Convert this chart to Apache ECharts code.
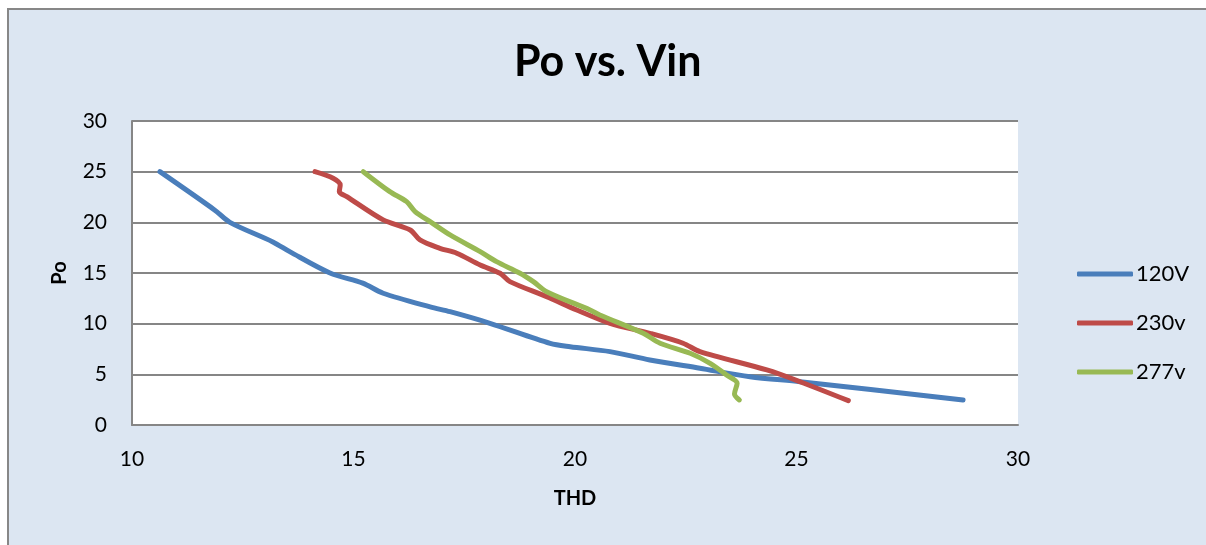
<!DOCTYPE html>
<html>
<head>
<meta charset="utf-8">
<script src="https://cdn.jsdelivr.net/npm/echarts@6/dist/echarts.min.js"></script>
<style>
html,body{margin:0;padding:0;background:#fff;}
#c{width:1206px;height:545px;}
</style>
</head>
<body>
<div id="c"></div>
<script>
var titleText = 'Po vs. Vin';
var xName = 'THD';
var yName = 'Po';
var seriesNames = ['120V', '230v', '277v'];

var thd120 = [10.63, 11.87, 12.21, 13.18, 13.57, 14.47, 15.21, 15.67, 16.73, 17.18, 18.08, 19.44, 19.89, 20.79, 21.69, 22.82, 23.95, 25.08, 28.76];
var po120  = [25.0, 21.2, 20.0, 18.07, 17.08, 15.0, 14.0, 13.0, 11.65, 11.18, 10.04, 8.06, 7.73, 7.24, 6.42, 5.6, 4.77, 4.27, 2.47];

var thd230 = [14.13, 14.54, 14.70, 14.68, 14.85, 15.67, 16.28, 16.50, 16.95, 17.33, 17.86, 18.31, 18.53, 19.36, 20.04, 20.79, 21.69, 22.44, 22.82, 24.33, 25.08, 26.17];
var po230  = [25.0, 24.35, 23.69, 23.03, 22.54, 20.24, 19.25, 18.26, 17.44, 16.95, 15.79, 14.97, 14.15, 12.67, 11.35, 10.04, 9.05, 8.07, 7.24, 5.43, 4.27, 2.40];

var thd277 = [15.22, 15.82, 16.20, 16.39, 16.73, 17.18, 17.86, 18.23, 18.76, 19.06, 19.36, 20.34, 20.56, 21.54, 21.92, 22.60, 23.05, 23.42, 23.66, 23.60, 23.71];
var po277  = [25.0, 23.03, 22.04, 21.06, 20.07, 18.76, 17.11, 16.12, 14.98, 14.15, 13.16, 11.35, 10.86, 9.05, 8.07, 7.08, 6.09, 4.94, 4.12, 3.06, 2.47];

var colors = ['#4A7EBB', '#BE4B48', '#98B954'];

function pairs(xs, ys){ return xs.map(function(x,i){ return [x, ys[i]]; }); }

var font = 'Lato, "Liberation Sans", sans-serif';
var chart = echarts.init(document.getElementById('c'));
var dataSets = [pairs(thd120, po120), pairs(thd230, po230), pairs(thd277, po277)];

chart.setOption({
  backgroundColor: '#ffffff',
  animation: false,
  textStyle: {fontFamily: font},
  graphic: [{
    type: 'rect', z: -100, silent: true,
    shape: {x: 8, y: 9, width: 1300, height: 700},
    style: {fill: '#DCE6F2', stroke: '#878787', lineWidth: 2}
  }],
  title: {
    text: titleText, left: 509, top: 36,
    textStyle: {fontFamily: font, fontSize: 43, fontWeight: 'bold', color: '#000'}
  },
  grid: {
    left: 132, right: 188, top: 121, bottom: 120,
    show: true, backgroundColor: '#ffffff', borderWidth: 0, containLabel: false
  },
  legend: {
    orient: 'vertical', left: 1072, top: 258,
    itemWidth: 56, itemHeight: 5, itemGap: 27,
    icon: 'roundRect',
    textStyle: {fontFamily: font, fontSize: 22, color: '#000', padding: [0,0,0,-2]},
    data: seriesNames
  },
  xAxis: {
    type: 'value', min: 10, max: 30, interval: 5,
    name: xName, nameLocation: 'middle', nameGap: 64,
    nameTextStyle: {fontFamily: font, fontSize: 20, fontWeight: 'bold', color: '#000'},
    axisLine: {show: true, lineStyle: {color: '#868686', width: 2}},
    axisTick: {show: false},
    axisLabel: {fontFamily: font, fontSize: 21, color: '#000', margin: 24},
    splitLine: {show: false}
  },
  yAxis: {
    type: 'value', min: 0, max: 30, interval: 5,
    name: yName, nameLocation: 'middle', nameGap: 62,
    nameTextStyle: {fontFamily: font, fontSize: 20, fontWeight: 'bold', color: '#000'},
    axisLine: {show: true, lineStyle: {color: '#868686', width: 2}},
    axisTick: {show: false},
    axisLabel: {fontFamily: font, fontSize: 21, color: '#000', margin: 25},
    splitLine: {show: true, lineStyle: {color: '#868686', width: 2}}
  },
  series: seriesNames.map(function(n, i){
    return {
      name: n, type: 'line', data: dataSets[i], smooth: 0.3,
      showSymbol: false, symbol: 'none',
      lineStyle: {color: colors[i], width: 5, cap: 'round', join: 'round'},
      itemStyle: {color: colors[i]}
    };
  })
});
</script>
</body>
</html>
